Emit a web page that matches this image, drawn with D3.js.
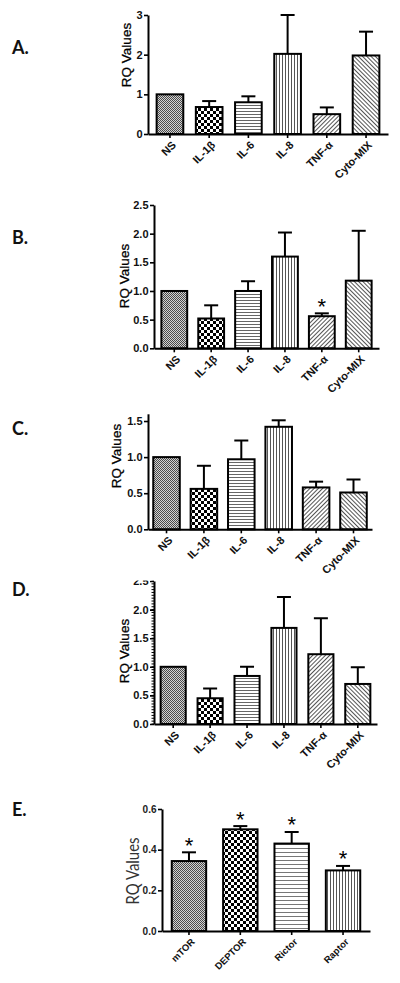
<!DOCTYPE html>
<html><head><meta charset="utf-8">
<script src="https://cdn.jsdelivr.net/npm/d3@7"></script>
<style>body{margin:0;background:#fff}svg{display:block}</style>
</head><body>
<svg id="chart" width="400" height="983"></svg>
<script>
// ---------------- data ----------------
const cytokines = ["NS", "IL-1β", "IL-6", "IL-8", "TNF-α", "Cyto-MIX"];
const mtorGenes = ["mTOR", "DEPTOR", "Rictor", "Raptor"];

const valuesA = [1.00, 0.68, 0.80, 2.02, 0.50, 1.98];
const errA    = [0.00, 0.15, 0.15, 0.98, 0.17, 0.60];
const valuesB = [1.00, 0.52, 1.00, 1.60, 0.56, 1.18];
const errB    = [0.00, 0.23, 0.17, 0.42, 0.05, 0.87];
const valuesC = [1.00, 0.56, 0.97, 1.42, 0.58, 0.51];
const errC    = [0.00, 0.32, 0.26, 0.09, 0.08, 0.18];
const valuesD = [1.00, 0.45, 0.84, 1.68, 1.22, 0.70];
const errD    = [0.00, 0.17, 0.16, 0.54, 0.63, 0.29];
const valuesE = [0.344, 0.500, 0.430, 0.298];
const errE    = [0.043, 0.016, 0.057, 0.022];

const starsB = [false, false, false, false, true, false];
const starsE = [true, true, true, true];

const ticksA = [0, 1, 2, 3];
const ticksB = [0, 0.5, 1.0, 1.5, 2.0, 2.5];
const ticksC = [0, 0.5, 1.0, 1.5];
const ticksD = [0, 0.5, 1.0, 1.5, 2.0, 2.5];
const ticksE = [0, 0.2, 0.4, 0.6];

const panelLetters = ["A.", "B.", "C.", "D.", "E."];
const yLabel = "RQ Values";

// ---------------- layout / style ----------------
const cytoPatterns = ["fine", "check", "hline", "vline", "diagR", "diagL"];
const ePatterns = ["fine", "check", "hlineE", "vline"];

const panels = [
  {letter: panelLetters[0], cats: cytokines, vals: valuesA, err: errA, stars: null, ticks: ticksA, yMax: 3, fmt: d3.format("d"),
   x0: 148, x1: 388, yZero: 134, yTop: 15, pi: 0.32, po: 0.22, letterY: 48, labX: 126, labY: 55, pats: cytoPatterns},
  {letter: panelLetters[1], cats: cytokines, vals: valuesB, err: errB, stars: starsB, ticks: ticksB, yMax: 2.5, fmt: d3.format(".1f"),
   x0: 154, x1: 379, yZero: 348.3, yTop: 205, pi: 0.30, po: 0.20, letterY: 238, labX: 124, labY: 276, pats: cytoPatterns},
  {letter: panelLetters[2], cats: cytokines, vals: valuesC, err: errC, stars: null, ticks: ticksC, yMax: 1.6, fmt: d3.format(".1f"),
   x0: 148, x1: 372, yZero: 529.3, yTop: 413.8, pi: 0.29, po: 0.14, letterY: 429, labX: 116, labY: 456, pats: cytoPatterns},
  {letter: panelLetters[3], cats: cytokines, vals: valuesD, err: errD, stars: null, ticks: ticksD, yMax: 2.5, fmt: d3.format(".1f"),
   x0: 154, x1: 377, yZero: 724, yTop: 581, pi: 0.32, po: 0.18, letterY: 590, labX: 124, labY: 651, pats: cytoPatterns,
   minor: 0.05, clipTop: 580.5},
  {letter: panelLetters[4], cats: mtorGenes, vals: valuesE, err: errE, stars: starsE, ticks: ticksE, yMax: 0.6, fmt: d3.format(".1f"),
   x0: 162, x1: 370, yZero: 931, yTop: 809, pi: 0.33, po: 0.19, letterY: 810, labX: 133, labY: 871, pats: ePatterns, small: true}
];

const svg = d3.select("#chart");
const defs = svg.append("defs");

function addPattern(id, w, h, bg, shapes, transform) {
  const p = defs.append("pattern").attr("id", id).attr("patternUnits", "userSpaceOnUse")
    .attr("width", w).attr("height", h);
  if (transform) p.attr("patternTransform", transform);
  p.append("rect").attr("width", w).attr("height", h).attr("fill", bg);
  shapes.forEach(s => p.append("rect").attr("x", s[0]).attr("y", s[1]).attr("width", s[2]).attr("height", s[3]).attr("fill", s[4]));
}
addPattern("fine", 2, 2, "#d2d2d2", [[0, 0, 1, 1, "#4a4a4a"], [1, 1, 1, 1, "#4a4a4a"]]);
addPattern("check", 6, 6, "#ffffff", [[0, 0, 3, 3, "#000"], [3, 3, 3, 3, "#000"]]);
addPattern("hline", 4, 3, "#ffffff", [[0, 0, 4, 1, "#666"]]);
addPattern("hlineE", 4, 4, "#ffffff", [[0, 0, 4, 1, "#777"]]);
addPattern("vline", 3, 4, "#ffffff", [[0, 0, 1, 4, "#555"]]);
addPattern("diagR", 3, 3, "#ffffff", [[0, 0, 1, 3, "#555"]], "rotate(45)");
addPattern("diagL", 3, 3, "#ffffff", [[0, 0, 1, 3, "#555"]], "rotate(-45)");

const FONT = "'Liberation Sans', Arial, sans-serif";

panels.forEach((P, pi) => {
  let g = svg.append("g");
  if (P.clipTop) {
    defs.append("clipPath").attr("id", "clip" + pi).append("rect")
      .attr("x", 0).attr("y", P.clipTop).attr("width", 400).attr("height", 983 - P.clipTop);
    g.attr("clip-path", "url(#clip" + pi + ")");
  }
  const x = d3.scaleBand().domain(P.cats).range([P.x0, P.x1]).paddingInner(P.pi).paddingOuter(P.po);
  const y = d3.scaleLinear().domain([0, P.yMax]).range([P.yZero, P.yTop]);

  // panel letter
  svg.append("text").attr("x", 12).attr("y", P.letterY).attr("dy", "0.35em")
    .attr("font-family", "Lato, 'Open Sans', sans-serif").attr("font-weight", "bold").attr("font-size", 18)
    .attr("fill", "#111").text(P.letter);

  // y label
  const yl = svg.append("text").attr("transform", `translate(${P.labX},${P.labY}) rotate(-90)`)
    .attr("text-anchor", "middle").attr("dy", "0.35em").text(yLabel);
  if (P.small) {
    yl.attr("font-family", "Lato, 'Open Sans', sans-serif").attr("font-size", 17).attr("fill", "#333")
      .attr("textLength", 67).attr("lengthAdjust", "spacingAndGlyphs");
  } else {
    yl.attr("font-family", FONT).attr("font-size", 13.5).attr("fill", "#000")
      .attr("stroke", "#000").attr("stroke-width", 0.25);
  }

  // bars
  g.append("g").selectAll("rect").data(P.vals).join("rect")
    .attr("x", (d, i) => x(P.cats[i])).attr("width", x.bandwidth())
    .attr("y", d => y(d)).attr("height", d => y(0) - y(d))
    .attr("fill", (d, i) => `url(#${P.pats[i]})`)
    .attr("stroke", "#000").attr("stroke-width", 2);

  // error bars (upper only)
  const eg = g.append("g").attr("stroke", "#000").attr("stroke-width", 2);
  P.vals.forEach((v, i) => {
    const e = P.err[i];
    if (!e) return;
    const cx = x(P.cats[i]) + x.bandwidth() / 2;
    eg.append("line").attr("x1", cx).attr("x2", cx).attr("y1", y(v)).attr("y2", y(v + e));
    eg.append("line").attr("x1", cx - 7).attr("x2", cx + 7).attr("y1", y(v + e)).attr("y2", y(v + e));
    if (P.stars && P.stars[i]) {
      g.append("text").attr("x", cx).attr("y", y(v + e) + 0.5).attr("text-anchor", "middle")
        .attr("font-family", FONT).attr("font-size", 22).attr("fill", "#000").text("*");
    }
  });

  // y axis
  const ya = d3.axisLeft(y).tickValues(P.ticks).tickFormat(P.fmt).tickSize(4).tickPadding(1.5).tickSizeOuter(0);
  const yg = g.append("g").attr("transform", `translate(${P.x0},0)`).call(ya);
  yg.select(".domain").attr("stroke-width", 2).attr("stroke", "#000");
  yg.selectAll(".tick line").attr("stroke-width", 1.6).attr("stroke", "#000");
  yg.selectAll(".tick text").attr("font-family", FONT).attr("font-weight", "bold")
    .attr("font-size", P.small ? 10 : 11).attr("fill", P.small ? "#222" : "#111");
  if (P.minor) {
    const minors = d3.range(0, P.yMax + 1e-9, P.minor);
    g.append("g").selectAll("line").data(minors).join("line")
      .attr("x1", P.x0 - 2.5).attr("x2", P.x0).attr("y1", d => y(d)).attr("y2", d => y(d))
      .attr("stroke", "#000").attr("stroke-width", 1);
  }

  // x axis
  const xa = d3.axisBottom(x).tickSize(4).tickSizeOuter(0).tickFormat("");
  const xg = g.append("g").attr("transform", `translate(0,${P.yZero})`).call(xa);
  xg.select(".domain").attr("stroke-width", 2).attr("stroke", "#000");
  xg.selectAll(".tick line").attr("stroke-width", 1.6).attr("stroke", "#000");

  // rotated category labels
  g.append("g").selectAll("text").data(P.cats).join("text")
    .attr("transform", d => `translate(${x(d) + x.bandwidth() / 2 + 4},${P.yZero + 9}) rotate(-45)`)
    .attr("text-anchor", "end").attr("dy", "0.35em")
    .attr("font-family", FONT).attr("font-weight", "bold").attr("font-size", P.small ? 9.5 : 11)
    .attr("fill", "#111").text(d => d);
});
</script>
</body></html>
